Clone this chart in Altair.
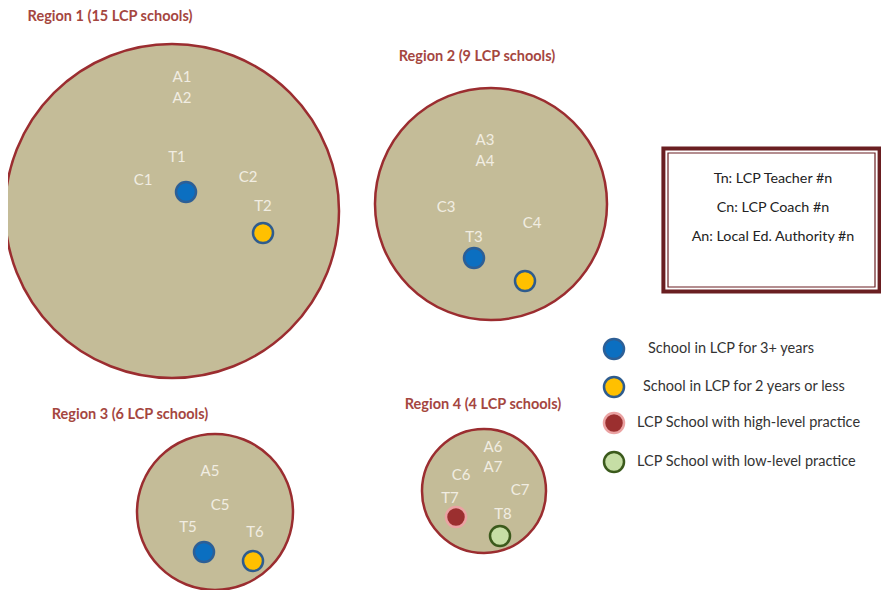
import altair as alt
import pandas as pd

# ---- data (page pixel coordinates) ----
region_titles = ["Region 1 (15 LCP schools)", "Region 2 (9 LCP schools)",
                 "Region 3 (6 LCP schools)", "Region 4 (4 LCP schools)"]
region_cx = [172, 491, 215, 484]
region_cy = [211, 204, 512, 491]
region_r = [167, 116, 78, 62]
title_x = [110, 477, 130, 483]
title_y = [17, 57, 415, 405]

label_text = ["A1", "A2", "T1", "C1", "C2", "T2",
              "A3", "A4", "C3", "C4", "T3",
              "A5", "C5", "T5", "T6",
              "A6", "A7", "C6", "C7", "T7", "T8"]
label_x = [182, 182, 177, 143, 248, 263,
           485, 485, 446, 532, 474,
           210, 220, 188, 255,
           493, 493, 461, 520, 450, 503]
label_y = [77, 98, 157, 180, 177, 206,
           140, 161, 207, 223, 237,
           471, 505, 527, 532,
           447, 467, 475, 490, 498, 514]

dot_kind = ["3+", "2-", "3+", "2-", "3+", "2-", "high", "low"]
dot_x = [186, 263, 474, 525, 204, 253, 456, 500]
dot_y = [192, 233, 258, 281, 552, 561, 517, 536]

kinds = ["3+", "2-", "high", "low"]
kind_fill = ["#0b6fc1", "#ffc000", "#9b2f2f", "#c6dea5"]
kind_stroke = ["#2d5f96", "#2e5c8e", "#eba3a3", "#3b5a1c"]
legend_text = ["School in LCP for 3+ years", "School in LCP for 2 years or less",
               "LCP School with high-level practice", "LCP School with low-level practice"]
legend_dot_x = [614, 614, 614, 614]
legend_y = [349, 387, 423, 462]
legend_text_x = [648, 643, 637, 637]

key_lines = ["Tn: LCP Teacher #n", "Cn: LCP Coach #n", "An: Local Ed. Authority #n"]
key_x = [773, 773, 773]
key_y = [179, 208, 237]
box_x = [662, 666, 668]
box_x2 = [881, 877, 875]
box_y = [147, 151, 153]
box_y2 = [293, 289, 287]

# ---- tables ----
regions = pd.DataFrame({"title": region_titles, "x": region_cx, "y": region_cy,
                        "r": region_r, "tx": title_x, "ty": title_y})
labels = pd.DataFrame({"t": label_text, "x": label_x, "y": label_y})
dots = pd.DataFrame({"kind": dot_kind, "x": dot_x, "y": dot_y})
legend = pd.DataFrame({"kind": kinds, "text": legend_text, "x": legend_dot_x,
                       "y": legend_y, "tx": legend_text_x})
keys = pd.DataFrame({"t": key_lines, "x": key_x, "y": key_y})
boxes = pd.DataFrame({"x": box_x, "x2": box_x2, "y": box_y, "y2": box_y2,
                      "part": ["outer", "gap", "inner"]})

W, H = 873, 582
xs = alt.Scale(domain=[8, 8 + W], nice=False, zero=False)
ys = alt.Scale(domain=[8, 8 + H], nice=False, zero=False, reverse=True)
X = lambda f="x": alt.X(f"{f}:Q", scale=xs, axis=None)
Y = lambda f="y": alt.Y(f"{f}:Q", scale=ys, axis=None)

FONT = "Lato"

# Vega symbol size for a circle = (diameter)^2
circles = alt.Chart(regions).transform_calculate(
    area="4 * datum.r * datum.r"
).mark_point(shape="circle", filled=True, fill="#c4bc98", stroke="#9b2d30",
             strokeWidth=2.5, opacity=1).encode(
    x=X(), y=Y(), size=alt.Size("area:Q", scale=None, legend=None))

titles = alt.Chart(regions).mark_text(font=FONT, fontSize=14.5, fontWeight="bold",
                                      color="#a5463f", align="center",
                                      baseline="middle").encode(
    x=X("tx"), y=Y("ty"), text="title:N")

lbls = alt.Chart(labels).mark_text(font=FONT, fontSize=15, color="#f1ede2",
                                   align="center", baseline="middle").encode(
    x=X(), y=Y(), text="t:N")

fill_scale = alt.Scale(domain=kinds, range=kind_fill)
stroke_scale = alt.Scale(domain=kinds, range=kind_stroke)

dot_layer = alt.Chart(dots).mark_point(shape="circle", filled=True, size=400,
                                       strokeWidth=2.5, opacity=1).encode(
    x=X(), y=Y(),
    fill=alt.Fill("kind:N", scale=fill_scale, legend=None),
    stroke=alt.Stroke("kind:N", scale=stroke_scale, legend=None))

leg_dots = alt.Chart(legend).mark_point(shape="circle", filled=True, size=400,
                                        strokeWidth=2.5, opacity=1).encode(
    x=X(), y=Y(),
    fill=alt.Fill("kind:N", scale=fill_scale, legend=None),
    stroke=alt.Stroke("kind:N", scale=stroke_scale, legend=None))

leg_text = alt.Chart(legend).mark_text(font=FONT, fontSize=14.5, color="#333333",
                                       align="left", baseline="middle").encode(
    x=X("tx"), y=Y(), text="text:N")

box_fill = alt.Scale(domain=["outer", "gap", "inner"],
                     range=["#6a1f22", "#ffffff", "#ffffff"])
box_stroke = alt.Scale(domain=["outer", "gap", "inner"],
                       range=["#6a1f22", "#ffffff", "#6a1f22"])
box = alt.Chart(boxes).mark_rect(strokeWidth=1.2, opacity=1).encode(
    x=X(), x2="x2:Q", y=Y(), y2="y2:Q",
    fill=alt.Fill("part:N", scale=box_fill, legend=None),
    stroke=alt.Stroke("part:N", scale=box_stroke, legend=None))

key_text = alt.Chart(keys).mark_text(font=FONT, fontSize=14.3, color="#222222",
                                     align="center", baseline="middle").encode(
    x=X(), y=Y(), text="t:N")

chart = alt.layer(circles, titles, lbls, dot_layer, box, key_text, leg_dots, leg_text
                  ).resolve_scale(fill="independent", stroke="independent").properties(
    width=W, height=H, padding=0,
    autosize=alt.AutoSizeParams(type="none")
).configure_view(stroke=None)

chart.save("out.html", embed_options={"renderer": "svg", "actions": False})
